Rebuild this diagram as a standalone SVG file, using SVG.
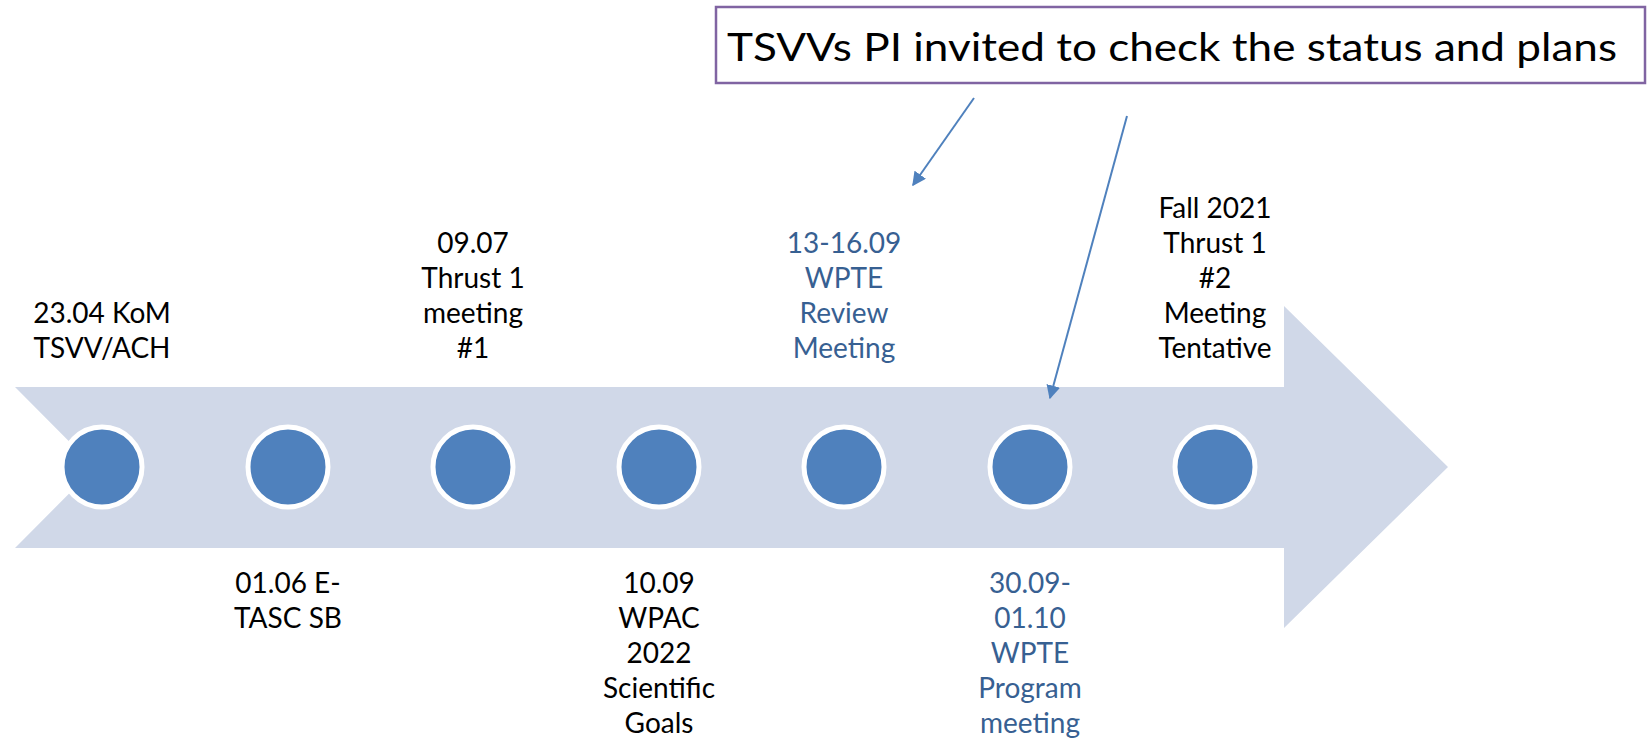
<svg xmlns="http://www.w3.org/2000/svg" width="1648" height="740" viewBox="0 0 1648 740">
<defs>
<style>
.lbl{font-family:Lato,"Liberation Sans",sans-serif;font-size:28px;text-anchor:middle;fill:#000}
.blue{fill:#376092}
.dot{fill:#4F81BD;stroke:#fff;stroke-width:5}
.conn{stroke:#4F81BD;stroke-width:2;fill:none}
.callout{font-family:Lato,"Liberation Sans",sans-serif;font-size:39px;fill:#000}
</style>
<marker id="ah" viewBox="0 0 10 10" refX="9" refY="5" markerWidth="7" markerHeight="7" orient="auto" markerUnits="strokeWidth">
<path d="M0,0 L10,5 L0,10 z" fill="#4F81BD"/>
</marker>
</defs>
<rect width="1648" height="740" fill="#fff"/>
<g id="timeline-arrow">
<polygon points="15,387 1284,387 1284,306 1448,467 1284,628 1284,548 15,548 95,467.5" fill="#D0D8E8"/>
</g>
<g id="callout">
<rect x="716" y="7" width="929" height="76" fill="#fff" stroke="#8064A2" stroke-width="2.5"/>
<text class="callout" x="727" y="61" textLength="890" lengthAdjust="spacingAndGlyphs">TSVVs PI invited to check the status and plans</text>
</g>
<g id="connectors">
<line class="conn" x1="974" y1="98" x2="913" y2="185" marker-end="url(#ah)"/>
<line class="conn" x1="1127" y1="116" x2="1050" y2="398" marker-end="url(#ah)"/>
</g>
<g id="event1">
<circle class="dot" cx="102" cy="467" r="40"/>
<text class="lbl" x="102" y="323">23.04 KoM</text>
<text class="lbl" x="102" y="358">TSVV/ACH</text>
</g>
<g id="event2">
<circle class="dot" cx="288" cy="467" r="40"/>
<text class="lbl" x="288" y="593">01.06 E-</text>
<text class="lbl" x="288" y="628">TASC SB</text>
</g>
<g id="event3">
<circle class="dot" cx="473" cy="467" r="40"/>
<text class="lbl" x="473" y="253">09.07</text>
<text class="lbl" x="473" y="288">Thrust 1</text>
<text class="lbl" x="473" y="323">meeting</text>
<text class="lbl" x="473" y="358">#1</text>
</g>
<g id="event4">
<circle class="dot" cx="659" cy="467" r="40"/>
<text class="lbl" x="659" y="593">10.09</text>
<text class="lbl" x="659" y="628">WPAC</text>
<text class="lbl" x="659" y="663">2022</text>
<text class="lbl" x="659" y="698">Scientific</text>
<text class="lbl" x="659" y="733">Goals</text>
</g>
<g id="event5">
<circle class="dot" cx="844" cy="467" r="40"/>
<text class="lbl blue" x="844" y="253">13-16.09</text>
<text class="lbl blue" x="844" y="288">WPTE</text>
<text class="lbl blue" x="844" y="323">Review</text>
<text class="lbl blue" x="844" y="358">Meeting</text>
</g>
<g id="event6">
<circle class="dot" cx="1030" cy="467" r="40"/>
<text class="lbl blue" x="1030" y="593">30.09-</text>
<text class="lbl blue" x="1030" y="628">01.10</text>
<text class="lbl blue" x="1030" y="663">WPTE</text>
<text class="lbl blue" x="1030" y="698">Program</text>
<text class="lbl blue" x="1030" y="733">meeting</text>
</g>
<g id="event7">
<circle class="dot" cx="1215" cy="467" r="40"/>
<text class="lbl" x="1215" y="218">Fall 2021</text>
<text class="lbl" x="1215" y="253">Thrust 1</text>
<text class="lbl" x="1215" y="288">#2</text>
<text class="lbl" x="1215" y="323">Meeting</text>
<text class="lbl" x="1215" y="358">Tentative</text>
</g>
</svg>
